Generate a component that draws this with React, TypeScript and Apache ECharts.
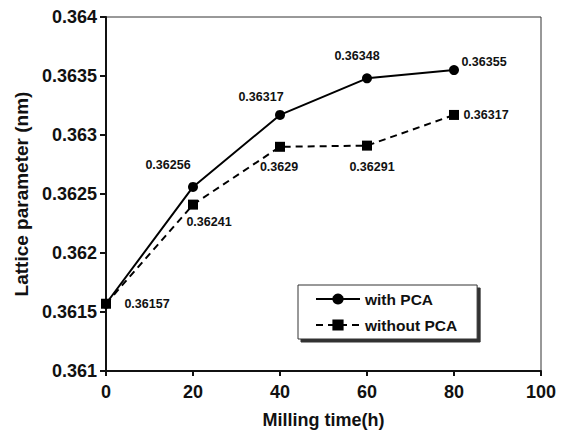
import React, { useEffect, useRef } from "react";
import * as echarts from "echarts";

const millingTime = [0, 20, 40, 60, 80];
const withPCA = [0.36157, 0.36256, 0.36317, 0.36348, 0.36355];
const withoutPCA = [0.36157, 0.36241, 0.3629, 0.36291, 0.36317];
const seriesNames = ["with PCA", "without PCA"];
const xAxisTitle = "Milling time(h)";
const yAxisTitle = "Lattice parameter (nm)";

// label offsets (dx, dy) from each point; null = no label
const withLabelOffsets: (number[] | null)[] = [null, [-25, -22], [-19, -18], [-10, -22], [30, -8]];
const withoutLabelOffsets: (number[] | null)[] = [[41, 0], [16, 17], [-1, 20], [5, 21], [32, 0]];

const FONT = "'Liberation Sans', Arial, sans-serif";
const INK = "#111";

function buildData(xs: number[], ys: number[], offsets: (number[] | null)[]) {
  return xs.map((x, i) => {
    const off = offsets[i];
    return {
      value: [x, ys[i]],
      label: off
        ? {
            show: true,
            position: "inside",
            offset: off,
            formatter: () => String(ys[i]),
            color: INK,
            fontFamily: FONT,
            fontWeight: "bold",
            fontSize: 12.5,
          }
        : { show: false },
    };
  });
}

export default function App() {
  const ref = useRef<HTMLDivElement>(null);
  useEffect(() => {
    if (!ref.current) return;
    const chart = echarts.init(ref.current, null, { renderer: "svg" });
    chart.setOption({
      animation: false,
      backgroundColor: "#fff",
      textStyle: { fontFamily: FONT },
      grid: {
        left: 106,
        top: 17,
        width: 435,
        height: 354,
        show: true,
        borderColor: "#333",
        borderWidth: 1,
        backgroundColor: "transparent",
      },
      legend: {
        orient: "vertical",
        left: 298,
        top: 285,
        padding: [6, 20, 6, 17],
        itemWidth: 44,
        itemHeight: 14,
        itemGap: 10,
        backgroundColor: "#fff",
        borderColor: "#333",
        borderWidth: 1,
        shadowColor: "#333",
        shadowOffsetX: 3,
        shadowOffsetY: 3,
        shadowBlur: 0,
        textStyle: {
          color: INK,
          fontFamily: FONT,
          fontWeight: "bold",
          fontSize: 15.5,
          lineHeight: 14,
        },
        data: seriesNames,
      },
      xAxis: {
        type: "value",
        min: 0,
        max: 100,
        interval: 20,
        name: xAxisTitle,
        nameLocation: "middle",
        nameGap: 40,
        nameTextStyle: { color: INK, fontFamily: FONT, fontWeight: "bold", fontSize: 18 },
        axisLine: { show: true, onZero: false, lineStyle: { color: INK, width: 2 } },
        axisTick: { show: true, inside: false, length: 5, lineStyle: { color: INK, width: 2 } },
        axisLabel: { color: INK, fontFamily: FONT, fontWeight: "bold", fontSize: 18, margin: 12 },
        splitLine: { show: false },
      },
      yAxis: {
        type: "value",
        min: 0.361,
        max: 0.364,
        interval: 0.0005,
        name: yAxisTitle,
        nameLocation: "middle",
        nameGap: 72,
        nameTextStyle: { color: INK, fontFamily: FONT, fontWeight: "bold", fontSize: 19 },
        axisLine: { show: true, onZero: false, lineStyle: { color: INK, width: 2 } },
        axisTick: { show: true, inside: false, length: 6, lineStyle: { color: INK, width: 2 } },
        axisLabel: {
          color: INK,
          fontFamily: FONT,
          fontWeight: "bold",
          fontSize: 18,
          margin: 9,
          formatter: (v: number) => String(+v.toFixed(4)),
        },
        splitLine: { show: false },
      },
      series: [
        {
          name: seriesNames[0],
          type: "line",
          symbol: "circle",
          symbolSize: 10,
          itemStyle: { color: "#000" },
          lineStyle: { color: "#000", width: 2, type: "solid" },
          data: buildData(millingTime, withPCA, withLabelOffsets),
          z: 2,
        },
        {
          name: seriesNames[1],
          type: "line",
          symbol: "rect",
          symbolSize: 10,
          itemStyle: { color: "#000" },
          lineStyle: { color: "#000", width: 2, type: [7, 5] },
          data: buildData(millingTime, withoutPCA, withoutLabelOffsets),
          z: 3,
        },
      ],
    });
    return () => chart.dispose();
  }, []);
  return (
    <div
      ref={ref}
      style={{ position: "fixed", left: 0, top: 0, width: 567, height: 435 }}
    />
  );
}
